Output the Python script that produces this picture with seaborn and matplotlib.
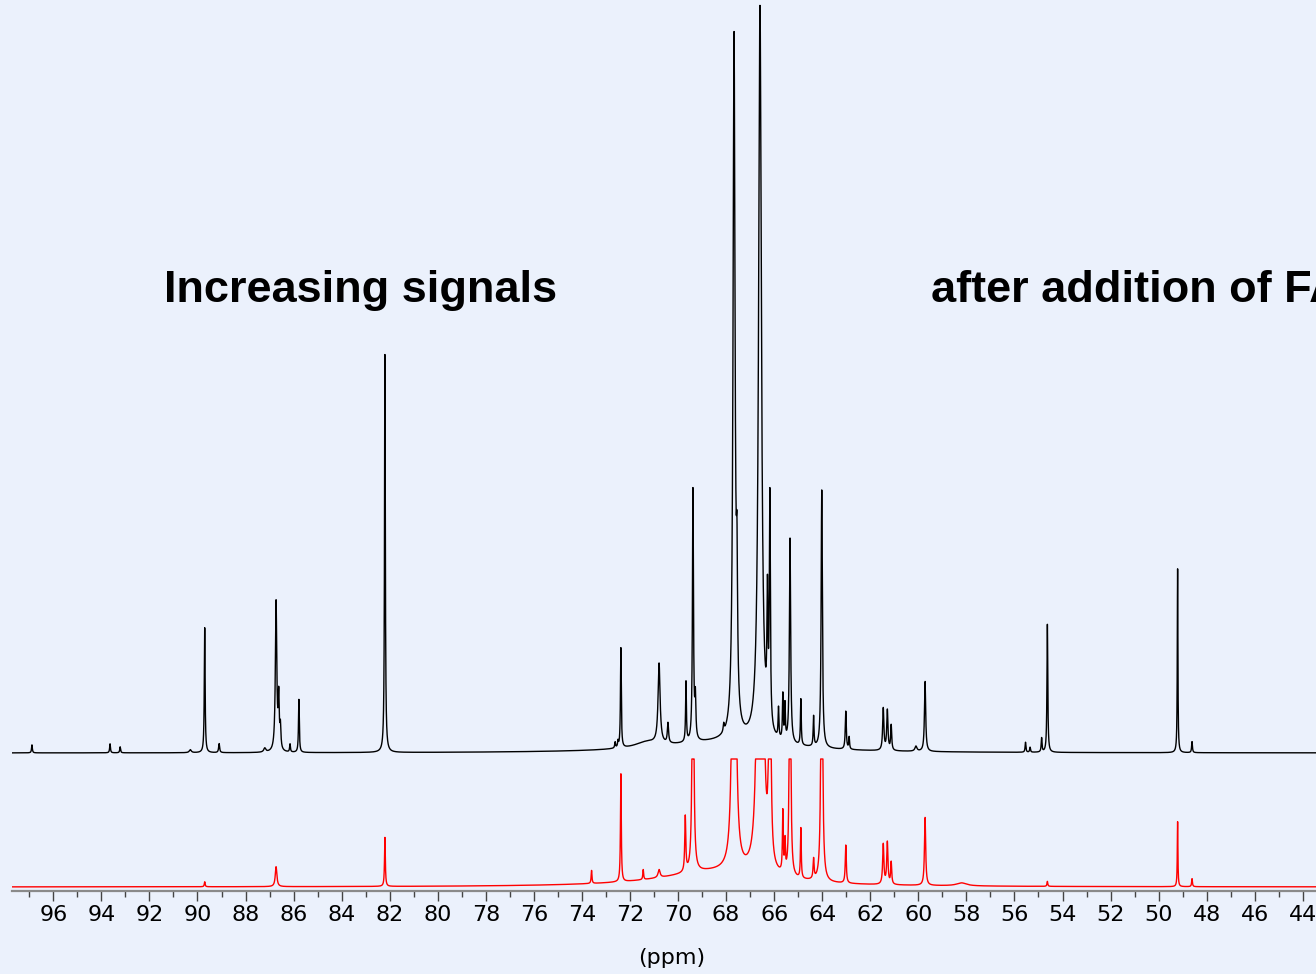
import numpy as np
import matplotlib
matplotlib.use("Agg")
import matplotlib.pyplot as plt
import seaborn as sns

# ---- peak tables (ppm, height, line width in ppm) ----
black_ppm = [96.89, 93.64, 93.22, 90.30, 89.70, 89.10, 87.20, 86.73, 86.62, 86.55,
             86.15, 85.78, 82.20, 72.62, 72.50, 72.38, 71.30, 70.79, 70.42, 69.67,
             69.38, 69.28, 68.10, 67.67, 67.55, 66.59, 66.28, 66.18, 65.82, 65.64,
             65.55, 65.34, 64.89, 64.36, 64.02, 63.02, 62.88, 61.46, 61.29, 61.13,
             60.10, 59.72, 55.54, 55.35, 54.87, 54.63, 49.21, 48.61, 68.00]
black_height = [8, 9, 6, 3, 125, 9, 4, 150, 50, 22,
                8, 53, 398, 6, 6, 100, 6, 80, 20, 60,
                252, 40, 8, 700, 120, 735, 120, 228, 30, 45,
                35, 205, 46, 30, 258, 38, 12, 42, 40, 25,
                5, 70, 10, 5, 14, 128, 184, 11, 11]
black_width = [0.04, 0.04, 0.04, 0.10, 0.04, 0.05, 0.10, 0.07, 0.05, 0.05,
               0.04, 0.04, 0.04, 0.04, 0.04, 0.04, 1.20, 0.10, 0.06, 0.04,
               0.05, 0.05, 0.05, 0.10, 0.06, 0.14, 0.05, 0.05, 0.04, 0.04,
               0.04, 0.06, 0.04, 0.04, 0.06, 0.05, 0.04, 0.06, 0.06, 0.05,
               0.10, 0.06, 0.04, 0.04, 0.04, 0.04, 0.03, 0.04, 6.00]

red_ppm = [89.70, 86.73, 82.20, 73.60, 72.38, 71.45, 70.79, 69.70, 69.38, 67.67,
           66.62, 66.50, 66.18, 65.64, 65.55, 65.34, 64.89, 64.36, 64.02, 63.02,
           61.46, 61.29, 61.13, 59.72, 58.20, 54.63, 49.21, 48.61, 68.50]
red_height = [5, 20, 49, 13, 108, 10, 8, 55, 400, 1000,
              1100, 700, 500, 60, 30, 450, 50, 20, 450, 38,
              40, 42, 22, 68, 3, 5, 65, 8, 15]
red_width = [0.04, 0.08, 0.04, 0.04, 0.04, 0.04, 0.10, 0.05, 0.06, 0.09,
             0.10, 0.08, 0.06, 0.04, 0.04, 0.05, 0.04, 0.05, 0.06, 0.05,
             0.06, 0.06, 0.05, 0.06, 0.50, 0.04, 0.03, 0.04, 5.50]

black_offset = 138
red_offset = 4
red_clip = 128

tick_values = list(range(44, 98, 2))
title_left = "Increasing signals"
title_right = "after addition of FA"

# ---- build spectra as sums of Lorentzian lines ----
ppm = np.linspace(97.72, 43.45, 40000)


def spectrum(centres, heights, widths):
    y = np.zeros_like(ppm)
    for c, h, w in zip(centres, heights, widths):
        y += h / (1.0 + (2.0 * (ppm - c) / w) ** 2)
    return y


black = spectrum(black_ppm, black_height, black_width) + black_offset
red = np.minimum(spectrum(red_ppm, red_height, red_width), red_clip) + red_offset

sns.set_theme(style="white")
plt.rcParams["font.family"] = ["DejaVu Sans"]
plt.rcParams["text.color"] = "black"
plt.rcParams["xtick.color"] = "black"

bg = "#EBF1FC"
fig = plt.figure(figsize=(13.16, 9.74), dpi=100, facecolor=bg)
ax = fig.add_axes([12 / 1316, 83 / 974, 1304 / 1316, 891 / 974])
ax.set_facecolor(bg)

sns.lineplot(x=ppm, y=black, ax=ax, color="black", lw=1.0, estimator=None, sort=False)
sns.lineplot(x=ppm, y=red, ax=ax, color="#FF0000", lw=1.0, estimator=None, sort=False)

ax.set_xlim(97.72, 43.45)
ax.set_ylim(0, 891)
for s in ["left", "right", "top"]:
    ax.spines[s].set_visible(False)
ax.spines["bottom"].set_color("#8a8a8a")
ax.spines["bottom"].set_linewidth(1.6)
ax.set_yticks([])
ax.set_xticks(tick_values)
ax.set_xticklabels([str(v) for v in tick_values])
ax.set_xticks(np.arange(44, 98, 1), minor=True)
ax.tick_params(axis="x", which="major", direction="out", length=7.2, width=1.0,
               color="#444444", labelcolor="black", labelsize=16, pad=3, bottom=True)
ax.tick_params(axis="x", which="minor", direction="out", length=4.3, width=1.0,
               color="#444444", bottom=True)
ax.set_xlabel("")
ax.set_ylabel("")

fig.text(672 / 1316, (974 - 958) / 974, "(ppm)", ha="center", va="center",
         fontsize=16, color="black")

fig.text(164 / 1316, (974 - 302) / 974, title_left, ha="left", va="baseline",
         fontsize=32.5, fontweight="bold", family="Liberation Sans", color="black")
fig.text(931 / 1316, (974 - 302) / 974, title_right, ha="left", va="baseline",
         fontsize=32.5, fontweight="bold", family="Liberation Sans", color="black")

fig.savefig("out.png", dpi=100, facecolor=bg)
